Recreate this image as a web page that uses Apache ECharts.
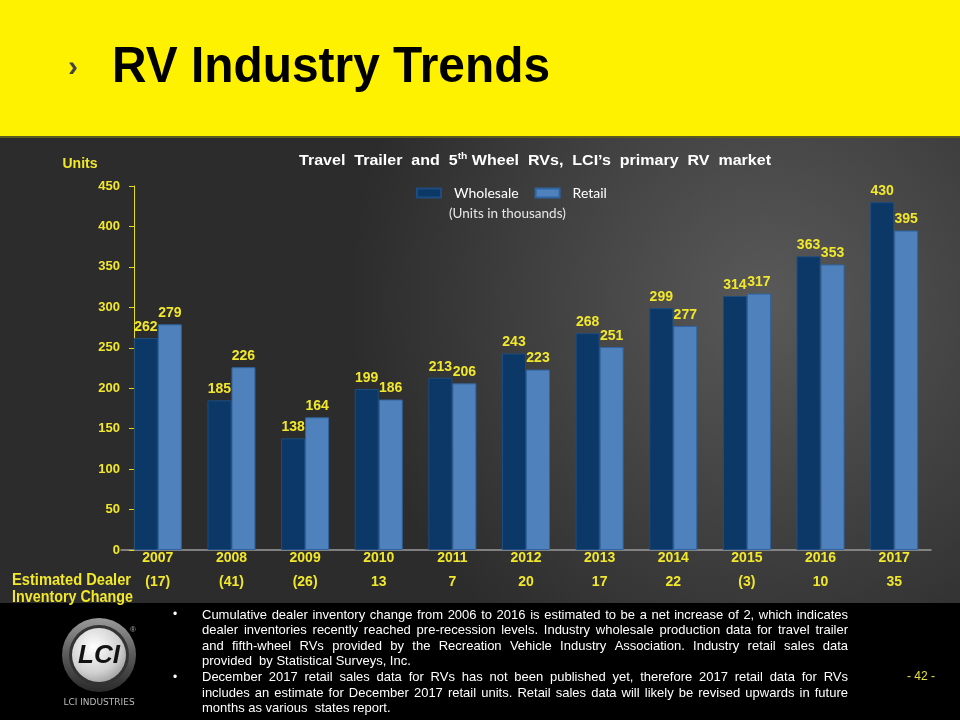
<!DOCTYPE html>
<html><head><meta charset="utf-8">
<script src="https://cdn.jsdelivr.net/npm/echarts@6/dist/echarts.min.js"></script>
<style>html,body{margin:0;padding:0;background:#000}#c{width:960px;height:720px}</style>
</head><body><div id="c"></div>
<script>
// ---- data ----
const years = ['2007','2008','2009','2010','2011','2012','2013','2014','2015','2016','2017'];
const wholesale = [262,185,138,199,213,243,268,299,314,363,430];
const retail = [279,226,164,186,206,223,251,277,317,353,395];
const inventoryChange = ['(17)','(41)','(26)','13','7','20','17','22','(3)','10','35'];
const yMin = 0, yMax = 450, yStep = 50;
const seriesNames = ['Wholesale','Retail'];
const bodyLines = [
  ['Cumulative dealer inventory change from 2006 to 2016 is estimated to be a net increase of 2, which indicates', true, true],
  ['dealer inventories recently reached pre-recession levels. Industry wholesale production data for travel trailer', false, true],
  ['and fifth-wheel RVs provided by the Recreation Vehicle Industry Association. Industry retail sales data', false, true],
  ['provided  by Statistical Surveys, Inc.', false, false],
  ['December 2017 retail sales data for RVs has not been published yet, therefore 2017 retail data for RVs', true, true],
  ['includes an estimate for December 2017 retail units. Retail sales data will likely be revised upwards in future', false, true],
  ['months as various  states report.', false, false]
];

const ARIAL = "'Liberation Sans', Arial, sans-serif";
const YEL = '#F2E82B';
const mctx = document.createElement('canvas').getContext('2d');
function tw(text, font){ mctx.font = font; return mctx.measureText(text).width; }

const graphics = [];
// backgrounds
graphics.push({type:'rect', z:-10, shape:{x:0,y:0,width:960,height:137}, style:{fill:'#FFF200'}});
graphics.push({type:'rect', z:-10, shape:{x:0,y:137,width:960,height:466},
  style:{fill:new echarts.graphic.RadialGradient(0.8,0.35,0.9,[{offset:0,color:'#595959'},{offset:1,color:'#2c2c2c'}])}});
graphics.push({type:'rect', z:-9, shape:{x:0,y:136,width:960,height:2}, style:{fill:'#5c5a1e'}});
graphics.push({type:'rect', z:-10, shape:{x:0,y:603,width:960,height:117}, style:{fill:'#000'}});

// header title
const titleFont = "bold 50px " + ARIAL;
const titleText = 'RV Industry Trends';
const tW = tw(titleText, titleFont);
graphics.push({type:'text', x:73, y:68, style:{text:'›', font:'bold 30px '+ARIAL, fill:'#444', align:'center', verticalAlign:'middle'}});
graphics.push({type:'text', x:112, y:68, scaleX:438/tW, style:{text:titleText, font:titleFont, fill:'#000', align:'left', verticalAlign:'middle'}});

// chart title with superscript
const ctFont = 'bold 14px ' + ARIAL, supFont = 'bold 9px ' + ARIAL;
const p1 = 'Travel  Trailer  and  5', ps = 'th', p2 = ' Wheel  RVs,  LCI\u2019s  primary  RV  market';
const w1 = tw(p1, ctFont), ws = tw(ps, supFont), w2 = tw(p2, ctFont);
const ctW = w1 + ws + w2, ctScale = 472/ctW, ctX = 535 - 472/2;
graphics.push({type:'group', x:ctX, y:161, scaleX:ctScale, children:[
  {type:'text', x:0, y:0, style:{text:p1, font:ctFont, fill:'#fff', verticalAlign:'middle'}},
  {type:'text', x:w1, y:-4, style:{text:ps, font:supFont, fill:'#fff', verticalAlign:'middle'}},
  {type:'text', x:w1+ws, y:0, style:{text:p2, font:ctFont, fill:'#fff', verticalAlign:'middle'}}
]});
graphics.push({type:'text', x:80, y:164, style:{text:'Units', font:'bold 14px '+ARIAL, fill:YEL, align:'center', verticalAlign:'middle'}});
graphics.push({type:'text', x:449, y:214, style:{text:'(Units in thousands)', font:"13.5px Lato, 'Noto Sans', sans-serif", fill:'#e6e6e6', verticalAlign:'middle'}});
const edFont = 'bold 17px ' + ARIAL;
const ed1 = 'Estimated Dealer', ed2 = 'Inventory Change';
graphics.push({type:'text', x:12, y:580, scaleX:119/tw(ed1, edFont), style:{text:ed1, font:edFont, fill:YEL, verticalAlign:'middle'}});
graphics.push({type:'text', x:12, y:597, scaleX:121/tw(ed2, edFont), style:{text:ed2, font:edFont, fill:YEL, verticalAlign:'middle'}});

// body text (justified)
const bodyFont = '13px ' + ARIAL;
const bx = 202, bw = 646;
bodyLines.forEach((ln, i) => {
  const y = 615 + i*15.6;
  if (ln[1]) graphics.push({type:'text', x:175, y:y, style:{text:'\u2022', font:'12px '+ARIAL, fill:'#fff', align:'center', verticalAlign:'middle'}});
  if (!ln[2]) {
    graphics.push({type:'text', x:bx, y:y, style:{text:ln[0], font:bodyFont, fill:'#fff', verticalAlign:'middle'}});
  } else {
    const words = ln[0].split(' ').filter(w => w);
    const wws = words.map(w => tw(w, bodyFont));
    const tot = wws.reduce((a,b)=>a+b,0);
    const gap = (bw - tot)/(words.length-1);
    let cx = bx;
    words.forEach((w, k) => {
      graphics.push({type:'text', x:cx, y:y, style:{text:w, font:bodyFont, fill:'#fff', verticalAlign:'middle'}});
      cx += wws[k] + gap;
    });
  }
});
graphics.push({type:'text', x:921, y:677, style:{text:'- 42 -', font:'12px '+ARIAL, fill:'#E8E03A', align:'center', verticalAlign:'middle'}});

// logo
graphics.push({type:'circle', shape:{cx:99,cy:655,r:37},
  style:{fill:new echarts.graphic.LinearGradient(0,0,0,1,[{offset:0,color:'#9a9a9a'},{offset:0.5,color:'#5a5a5a'},{offset:1,color:'#2a2a2a'}])}});
graphics.push({type:'circle', shape:{cx:99,cy:655,r:30}, style:{fill:'#333'}});
graphics.push({type:'circle', shape:{cx:99,cy:655,r:27},
  style:{fill:new echarts.graphic.RadialGradient(0.4,0.35,0.8,[{offset:0,color:'#ffffff'},{offset:0.6,color:'#d0d0d0'},{offset:1,color:'#8a8a8a'}])}});
graphics.push({type:'text', x:99, y:656, style:{text:'LCI', font:'italic bold 26px '+ARIAL, fill:'#111', align:'center', verticalAlign:'middle'}});
graphics.push({type:'text', x:133, y:630, style:{text:'®', font:'8px '+ARIAL, fill:'#aaa', align:'center', verticalAlign:'middle'}});
graphics.push({type:'text', x:99, y:703, style:{text:'LCI INDUSTRIES', font:"9px 'DejaVu Sans', sans-serif", fill:'#bbb', align:'center', verticalAlign:'middle'}});

const chart = echarts.init(document.getElementById('c'), null, {renderer:'canvas'});
const barLabel = {show:true, position:'top', distance:4, color:YEL, fontWeight:'bold', fontSize:14, fontFamily:ARIAL};
const catLabel = {color:YEL, fontWeight:'bold', fontSize:14, fontFamily:ARIAL, margin:1};
chart.setOption({
  backgroundColor:'#000',
  animation:false,
  graphic:{elements:graphics},
  legend:{data:seriesNames, left:411, top:181, itemWidth:24, itemHeight:9, itemGap:16, icon:'rect',
    textStyle:{color:'#fff', fontSize:14, fontFamily:"Lato, 'Noto Sans', sans-serif", padding:[0,0,0,8]}},
  grid:{left:121, right:29, top:186, bottom:170, containLabel:false},
  xAxis:[
    {type:'category', data:years, axisLine:{show:true, lineStyle:{color:'#9a9a9a', width:1.5}}, axisTick:{show:false},
     axisLabel:catLabel},
    {type:'category', data:inventoryChange, position:'bottom', offset:24, axisLine:{show:false}, axisTick:{show:false},
     axisLabel:catLabel}
  ],
  yAxis:{type:'value', min:yMin, max:yMax, interval:yStep, offset:-13,
    axisLine:{show:true, lineStyle:{color:'#E6DC1E'}}, axisTick:{show:true, length:5, lineStyle:{color:'#E6DC1E'}},
    axisLabel:{color:YEL, fontWeight:'bold', fontSize:13, fontFamily:ARIAL, margin:14}, splitLine:{show:false}},
  series:[
    {name:seriesNames[0], type:'bar', xAxisIndex:0, data:wholesale, barWidth:24, barGap:'0%',
     itemStyle:{color:'#0C3867', borderColor:'#1d4d80', borderWidth:1}, label:barLabel},
    {name:seriesNames[1], type:'bar', xAxisIndex:0, data:retail, barWidth:24, barGap:'0%',
     itemStyle:{color:'#4F81BD', borderColor:'#2f64a0', borderWidth:1}, label:barLabel}
  ]
});
</script></body></html>
